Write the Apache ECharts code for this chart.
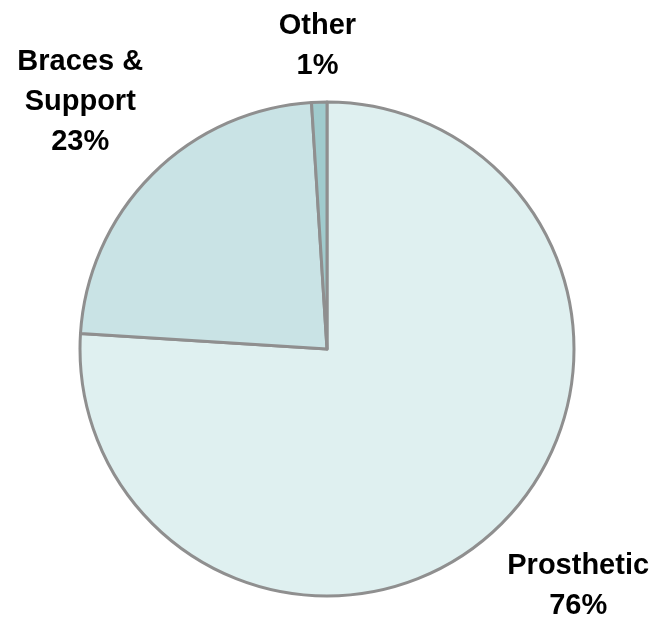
<!DOCTYPE html>
<html>
<head>
<meta charset="utf-8">
<script src="https://cdn.jsdelivr.net/npm/echarts@6/dist/echarts.min.js"></script>
<style>
  html, body { margin: 0; padding: 0; background: #ffffff; }
  #chart { width: 656px; height: 621px; }
</style>
</head>
<body>
<div id="chart"></div>
<script>
// Product categories and their share of the total (percent)
const categories = ['Prosthetic', 'Braces &\nSupport', 'Other'];
const shares = [76, 23, 1];
const sliceColors = ['#dff0f0', '#c9e3e5', '#a0cbcd'];

// Pie geometry
const CENTER = [327, 349];
const RADIUS = 247;
// Radial distance of each label block from the centre, plus a small nudge
const labelDistance = [345, 349, 303];
const labelNudge = [[15, -14], [0, 0], [0, 0]];

const total = shares.reduce((a, b) => a + b, 0);

const chart = echarts.init(document.getElementById('chart'), null, { renderer: 'canvas' });

chart.setOption({
  animation: false,
  backgroundColor: '#ffffff',
  series: [{
    type: 'pie',
    center: CENTER,
    radius: RADIUS,
    startAngle: 90,
    clockwise: true,
    data: categories.map((name, i) => ({
      name: name,
      value: shares[i],
      itemStyle: { color: sliceColors[i] }
    })),
    itemStyle: { borderColor: '#8f8f8f', borderWidth: 3 },
    emphasis: { disabled: true },
    label: {
      show: true,
      position: 'outside',
      alignTo: 'none',
      overflow: 'none',
      formatter: p => p.name + '\n' + p.value + '%',
      fontFamily: 'Liberation Sans, Arial, sans-serif',
      fontWeight: 'bold',
      fontSize: 29,
      lineHeight: 40,
      color: '#000000',
      align: 'center'
    },
    labelLine: { show: false },
    labelLayout: function (params) {
      const i = params.dataIndex;
      let before = 0;
      for (let k = 0; k < i; k++) before += shares[k];
      const mid = (before + shares[i] / 2) / total * Math.PI * 2;
      const d = labelDistance[i];
      return {
        x: CENTER[0] + Math.sin(mid) * d + labelNudge[i][0],
        y: CENTER[1] - Math.cos(mid) * d + labelNudge[i][1],
        align: 'center',
        verticalAlign: 'middle',
        width: 200
      };
    }
  }]
});
</script>
</body>
</html>
